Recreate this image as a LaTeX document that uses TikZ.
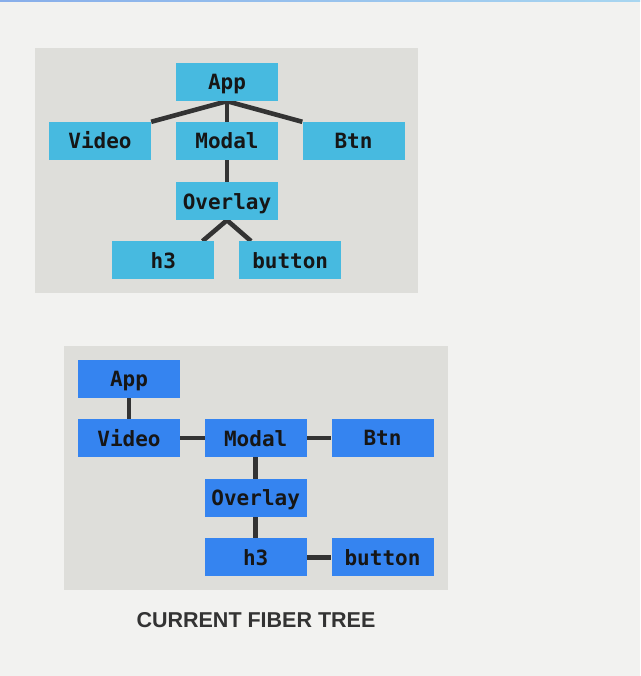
\documentclass[tikz,border=0pt]{standalone}
\usepackage{fontspec}
\setmainfont{Liberation Sans}
\newfontfamily\codefont{DejaVu Sans Mono}[BoldFont={DejaVu Sans Mono Bold}]
\usetikzlibrary{backgrounds}
\definecolor{pagebg}{HTML}{F2F2F0}
\definecolor{panelbg}{HTML}{DEDEDA}
\definecolor{lightblue}{HTML}{47BAE0}
\definecolor{deepblue}{HTML}{3584F0}
\definecolor{linkcol}{HTML}{333333}
\definecolor{txtcol}{HTML}{161616}
\definecolor{topA}{HTML}{88AEEA}
\definecolor{topB}{HTML}{A8D6F0}
\pgfdeclarelayer{panels}
\pgfdeclarelayer{links}
\pgfsetlayers{panels,links,main}
\tikzset{
  fnode/.style={minimum width=102pt, minimum height=38pt, inner sep=0pt, text=txtcol,
    text height=16pt, text depth=0pt,
    font=\codefont\bfseries\fontsize{21}{23}\selectfont},
  oldnode/.style={fnode, fill=lightblue},
  newnode/.style={fnode, fill=deepblue},
  link/.style={draw=linkcol, line width=4.6pt},
  panel/.style={fill=panelbg, draw=none},
}
\begin{document}
\begin{tikzpicture}[x=1pt,y=-1pt]
\begin{pgfonlayer}{panels}
\fill[pagebg] (0,0) rectangle (640,676);
\shade[left color=topA, right color=topB] (0,0) rectangle (640,1.6);
\fill[panel] (35,48) rectangle (418,293);
\fill[panel] (64,346) rectangle (448,590);
\end{pgfonlayer}
\useasboundingbox (0,0) rectangle (640,676);
% top tree
\node[oldnode] (tApp) at (227,82) {App};
\node[oldnode] (tVideo) at (100,141) {Video};
\node[oldnode] (tModal) at (227,141) {Modal};
\node[oldnode] (tBtn) at (353.5,141) {Btn};
\node[oldnode] (tOverlay) at (227,201) {Overlay};
\node[oldnode] (tH) at (163.3,260.3) {h3};
\node[oldnode] (tButton) at (290.2,260.3) {button};
% bottom tree
\node[newnode] (bApp) at (129,378.5) {App};
\node[newnode] (bVideo) at (129,438) {Video};
\node[newnode] (bModal) at (255.7,438) {Modal};
\node[newnode] (bBtn) at (382.5,437.5) {Btn};
\node[newnode] (bOverlay) at (255.7,497.7) {Overlay};
\node[newnode] (bH) at (255.7,557.3) {h3};
\node[newnode] (bButton) at (382.5,557.3) {button};
\begin{pgfonlayer}{links}
\draw[link] (tApp.south) -- (tVideo.north east);
\draw[link] (tApp.south) -- (tModal.north);
\draw[link] (tApp.south) -- (tBtn.north west);
\draw[link] (tModal.south) -- (tOverlay.north);
\draw[link] (tOverlay.south) -- ([xshift=-12pt]tH.north east);
\draw[link] (tOverlay.south) -- ([xshift=12pt]tButton.north west);
\draw[link] (bApp.south) -- (bVideo.north);
\draw[link] (bVideo.east) -- (bModal.west);
\draw[link] (bModal.east) -- (bBtn.west |- bModal.east);
\draw[link] (bModal.south) -- (bOverlay.north);
\draw[link] (bOverlay.south) -- (bH.north);
\draw[link] (bH.east) -- (bButton.west);
\end{pgfonlayer}
\node[text=linkcol, font=\bfseries\fontsize{21.5}{24}\selectfont, inner sep=0pt] (title) at (256,620) {CURRENT FIBER TREE};
\end{tikzpicture}
\end{document}
